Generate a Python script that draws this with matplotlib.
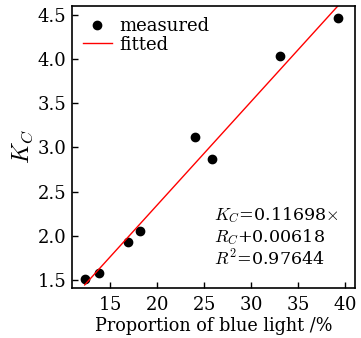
import numpy as np
import matplotlib.pyplot as plt

plt.rcParams['font.family'] = 'serif'
plt.rcParams['font.serif'] = ['DejaVu Serif']
plt.rcParams['mathtext.fontset'] = 'cm'
plt.rcParams['axes.formatter.use_mathtext'] = True

# blue light proportion (%) and measured K_C
blue_pct = [12.3, 13.8, 16.9, 18.2, 24.1, 25.9, 33.1, 39.3]
k_c = [1.51, 1.58, 1.93, 2.05, 3.12, 2.87, 4.04, 4.46]

slope = 0.11698
intercept = 0.00618
r2 = 0.97644

fig = plt.figure(figsize=(3.61, 3.38), dpi=100)
ax = fig.add_axes([72 / 361, 50 / 338, 283 / 361, 282 / 338])

ax.plot(blue_pct, k_c, 'o', color='black', markersize=6, label='measured')
xf = np.linspace(min(blue_pct), 39.5, 100)
ax.plot(xf, slope * xf + intercept, '-', color='red', lw=1, label='fitted')

ax.set_xlim(10.95, 41.1)
ax.set_ylim(1.41, 4.6)
ax.set_xticks([15, 20, 25, 30, 35, 40])
ax.set_yticks([1.5, 2.0, 2.5, 3.0, 3.5, 4.0, 4.5])
ax.yaxis.set_major_formatter(plt.FormatStrFormatter('%.1f'))
ax.tick_params(direction='in', length=4, width=1, labelsize=13, pad=4)
ax.tick_params(axis='x', pad=6)
for s in ax.spines.values():
    s.set_linewidth(1.2)

ax.set_xlabel('Proportion of blue light /%', fontsize=12.7, labelpad=2)
ax.set_ylabel('$K_C$', fontsize=17, labelpad=2)

ax.legend(loc='upper left', frameon=False, fontsize=13, handlelength=1.6,
          handletextpad=0.4, borderpad=0.1, labelspacing=0.05,
          bbox_to_anchor=(0.0, 1.0))

ax.text(0.5, 0.18, '$K_C$=0.11698$\\times$\n$R_C$+0.00618\n$R^2$=0.97644',
        transform=ax.transAxes, fontsize=12.6, va='center', ha='left',
        linespacing=1.15)

fig.savefig('out.png', dpi=100)
